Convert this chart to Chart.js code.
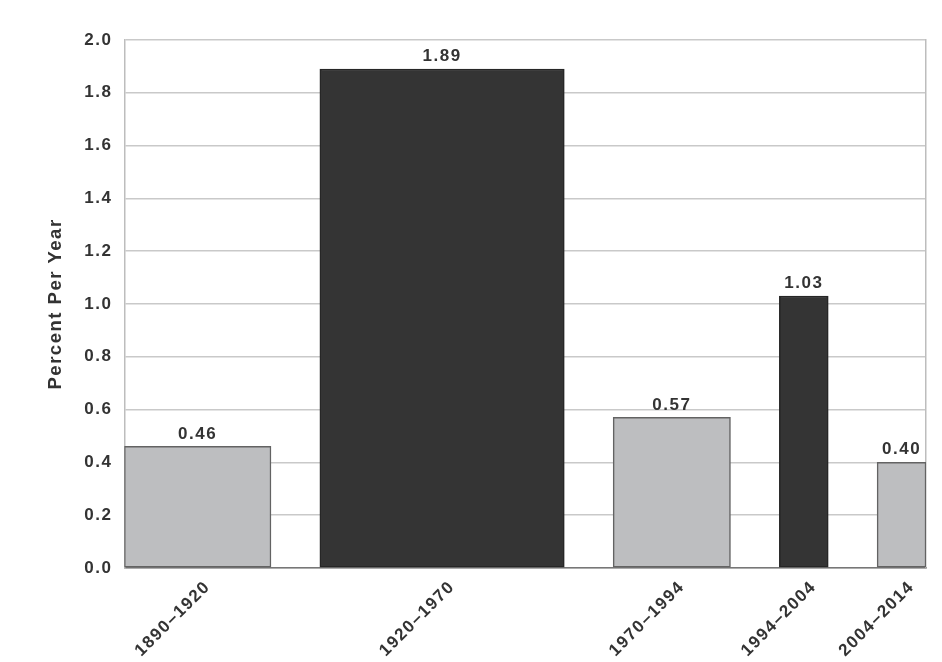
<!DOCTYPE html>
<html>
<head>
<meta charset="utf-8">
<script src="https://cdn.jsdelivr.net/npm/chart.js@4.4.1/dist/chart.umd.min.js"></script>
<style>
  html, body { margin: 0; padding: 0; background: #fff; }
  #wrap { width: 942px; height: 662px; }
</style>
</head>
<body>
<div id="wrap"><canvas id="myChart"></canvas></div>
<script>
// periods shown on the x axis, bar width follows the length of each period
const periods = ['1890–1920', '1920–1970', '1970–1994', '1994–2004', '2004–2014'];
const startYears = [1890, 1920, 1970, 1994, 2004];
const endYears = [1920, 1970, 1994, 2004, 2014];
const percentPerYear = [0.46, 1.89, 0.57, 1.03, 0.40];
const yTicks = [0, 0.2, 0.4, 0.6, 0.8, 1.0, 1.2, 1.4, 1.6, 1.8, 2.0];

const GAP_YEARS = 10; // empty space between bars, in years
const FIRST_YEAR = startYears[0];

const xStart = startYears.map((y, i) => y - FIRST_YEAR + GAP_YEARS * i);
const xEnd = endYears.map((y, i) => y - FIRST_YEAR + GAP_YEARS * i);
const xCenter = xStart.map((s, i) => (s + xEnd[i]) / 2);

const GRAY = '#bdbec0';
const DARK = '#343434';
const barFill = [GRAY, DARK, GRAY, DARK, GRAY];
const barLine = ['#636363', '#262626', '#636363', '#262626', '#636363'];

const FONT = 'Liberation Sans, Arial, Helvetica, sans-serif';
const TEXT = '#333333';
const TRACKING = '1.5px';

const ctx = document.getElementById('myChart').getContext('2d');

// the printed chart uses loose letter spacing, canvas state gets reset on resize
const tracking = {
  id: 'tracking',
  beforeLayout(chart) { chart.ctx.letterSpacing = TRACKING; },
  beforeDraw(chart) { chart.ctx.letterSpacing = TRACKING; },
};

const valueLabels = {
  id: 'valueLabels',
  afterDatasetsDraw(chart) {
    const c = chart.ctx;
    c.save();
    c.font = `bold 17px ${FONT}`;
    c.fillStyle = TEXT;
    c.textAlign = 'center';
    c.textBaseline = 'bottom';
    chart.data.datasets.forEach((ds, i) => {
      const bar = chart.getDatasetMeta(i).data[0];
      c.fillText(percentPerYear[i].toFixed(2), bar.x, bar.y - 4);
    });
    c.restore();
  },
};

const myChart = new Chart(ctx, {
  type: 'bar',
  data: {
    datasets: periods.map((p, i) => ({
      label: p,
      data: [{ x: xCenter[i], y: percentPerYear[i] }],
      backgroundColor: barFill[i],
      borderColor: barLine[i],
      borderWidth: 1.5,
      borderSkipped: false,
      grouped: false,
      barThickness: (c) => {
        const x = c.chart.scales.x;
        if (!x) return 10;
        return x.getPixelForValue(xEnd[i]) - x.getPixelForValue(xStart[i]);
      },
    })),
  },
  plugins: [tracking, valueLabels],
  options: {
    responsive: true,
    maintainAspectRatio: false,
    animation: false,
    layout: { padding: { top: 40, right: 16, bottom: 0, left: 40 } },
    plugins: {
      legend: { display: false },
      tooltip: { enabled: false },
    },
    scales: {
      x: {
        type: 'linear',
        min: 0,
        max: xEnd[xEnd.length - 1],
        offset: false,
        grid: { display: false, offset: false },
        border: { color: '#777777', width: 1.5 },
        afterBuildTicks: (axis) => {
          axis.ticks = xCenter.map((v) => ({ value: v }));
        },
        ticks: {
          autoSkip: false,
          minRotation: 45,
          maxRotation: 45,
          labelOffset: 10,
          padding: 1,
          color: TEXT,
          font: { family: FONT, size: 17, weight: 'bold' },
          callback: (value, index) => periods[index],
        },
      },
      y: {
        min: 0,
        max: 2,
        afterBuildTicks: (axis) => {
          axis.ticks = yTicks.map((v) => ({ value: v }));
        },
        grid: { color: '#c9c9c9', lineWidth: 1.5, drawTicks: false },
        border: { color: '#bdbdbd', width: 1.5 },
        ticks: {
          padding: 12,
          color: TEXT,
          font: { family: FONT, size: 17, weight: 'bold' },
          callback: (v) => v.toFixed(1),
        },
        title: {
          display: true,
          text: 'Percent Per Year',
          color: TEXT,
          padding: { top: 5, bottom: 5 },
          font: { family: FONT, size: 18.5, weight: 'bold' },
        },
      },
      y2: {
        position: 'right',
        min: 0,
        max: 2,
        grid: { display: false, drawTicks: false },
        border: { color: '#bdbdbd', width: 1.5 },
        ticks: { display: false },
      },
    },
  },
});
</script>
</body>
</html>
